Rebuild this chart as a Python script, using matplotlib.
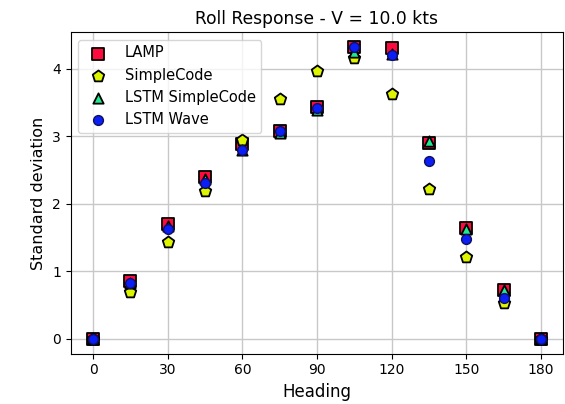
import matplotlib
matplotlib.use("Agg")
import matplotlib.pyplot as plt

# headings (deg) and roll standard deviation per method
heading = [0, 15, 30, 45, 60, 75, 90, 105, 120, 135, 150, 165, 180]
lamp = [0.0, 0.85, 1.70, 2.40, 2.88, 3.08, 3.43, 4.32, 4.30, 2.90, 1.64, 0.73, 0.0]
simplecode = [0.0, 0.70, 1.43, 2.19, 2.95, 3.55, 3.96, 4.15, 3.62, 2.22, 1.21, 0.53, 0.0]
lstm_simplecode = [0.0, 0.83, 1.67, 2.36, 2.80, 3.05, 3.38, 4.25, 4.22, 2.93, 1.63, 0.72, 0.0]
lstm_wave = [0.0, 0.83, 1.62, 2.30, 2.80, 3.08, 3.42, 4.32, 4.20, 2.63, 1.48, 0.61, 0.0]
xticks = [0, 30, 60, 90, 120, 150, 180]

fig, ax = plt.subplots(figsize=(5.65, 4.04), dpi=100)
fig.subplots_adjust(left=0.125, right=0.997, top=0.92, bottom=0.125)

ax.scatter(heading, lamp, marker='s', s=85, c='#ff0a3c', edgecolors='black',
           linewidths=1.3, label='LAMP', zorder=3)
ax.scatter(heading, simplecode, marker='p', s=75, c='#ddf500', edgecolors='black',
           linewidths=1.3, label='SimpleCode', zorder=3)
ax.scatter(heading, lstm_simplecode, marker='^', s=55, c='#20e890', edgecolors='black',
           linewidths=1.3, label='LSTM SimpleCode', zorder=3)
ax.scatter(heading, lstm_wave, marker='o', s=50, c='#0a1ef5', edgecolors='#101060',
           linewidths=1.0, label='LSTM Wave', zorder=3)

ax.set_xticks(xticks)
ax.tick_params(labelsize=10)
ax.grid(True, color='#c8c8c8', linewidth=1.0)
ax.set_axisbelow(True)

ax.set_title('Roll Response - V = 10.0 kts', fontsize=12.3)
ax.set_xlabel('Heading', fontsize=12)
ax.set_ylabel('Standard deviation', fontsize=11.5)
ax.legend(loc='upper left', fontsize=10.5)

plt.savefig('out.png', dpi=100)
plt.close(fig)
